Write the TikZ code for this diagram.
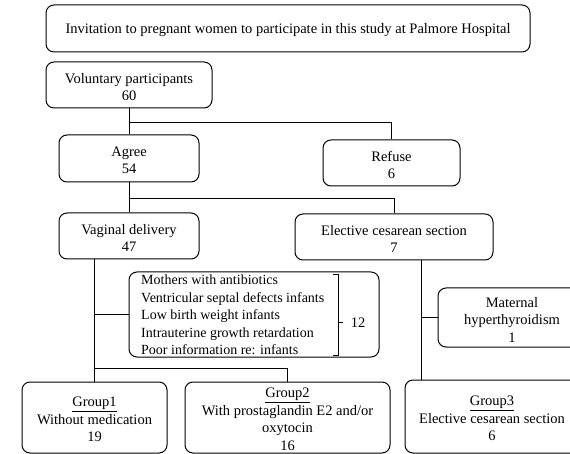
\documentclass[tikz,border=0pt]{standalone}
\usepackage{fontspec}
\setmainfont{Liberation Serif}
\usetikzlibrary{backgrounds}
\begin{document}
\begin{tikzpicture}[x=1pt,y=-1pt,
  box/.style={draw,fill=white,rounded corners=8pt,line width=1pt,inner sep=0pt},
  txt/.style={inner sep=0pt,align=center,font=\fontsize{14.5}{17.5}\selectfont},
  listtxt/.style={inner sep=0pt,align=left,font=\fontsize{14}{17.5}\selectfont},
  intxt/.style={label={[txt,yshift=-2pt]center:{#1}}},
  conn/.style={line width=1pt}]
\useasboundingbox (0,0) rectangle (570,454);
\clip (0,0) rectangle (570,454);
\node[box,minimum width=484pt,minimum height=47pt,
  intxt={Invitation to pregnant women to participate in this study at Palmore Hospital}] (title) at (288,28.5) {};
\node[box,minimum width=166pt,minimum height=46pt,
  intxt={Voluntary participants\\60}] (vol) at (129,85) {};
\node[box,minimum width=140pt,minimum height=47pt,
  intxt={Agree\\54}] (agree) at (129,158.5) {};
\node[box,minimum width=137pt,minimum height=46pt,
  intxt={Refuse\\6}] (refuse) at (391.5,163) {};
\node[box,minimum width=140pt,minimum height=46pt,
  intxt={Vaginal delivery\\47}] (vaginal) at (129,236) {};
\node[box,minimum width=198pt,minimum height=46pt,
  intxt={Elective cesarean section\\7}] (elective) at (394,237) {};
\node[box,minimum width=250pt,minimum height=85pt] (excl) at (254,314.5) {};
\node[listtxt,anchor=west] (excltxt) at (141,315)
  {Mothers with antibiotics\\Ventricular septal defects infants\\Low birth weight infants\\Intrauterine growth retardation\\Poor information re: infants};
\node[txt] (twelve) at (358,323) {12};
\node[box,minimum width=148pt,minimum height=59pt,
  intxt={Maternal\\hyperthyroidism\\1}] (maternal) at (512,317.5) {};
\node[box,minimum width=145pt,minimum height=71pt,
  intxt={\underline{Group1}\\Without medication\\19}] (g1) at (94.5,417.5) {};
\node[box,minimum width=205pt,minimum height=71pt,
  intxt={\underline{Group2}\\With prostaglandin E2 and/or\\oxytocin\\16}] (g2) at (287.5,417.5) {};
\node[box,minimum width=174pt,minimum height=73pt,
  intxt={\underline{Group3}\\Elective cesarean section\\6}] (g3) at (492,416.5) {};
% bracket
\draw[conn] (333,275) -- (338,275) -- (338,355) -- (333,355);
\draw[conn] (338,322) -- (343,322);
% connectors
\coordinate (j1) at (129,123);
\coordinate (j2) at (129,199);
\coordinate (e1) at (421,260);
\begin{pgfonlayer}{background}
\draw[conn] (vol.south) -- (agree.north);
\draw[conn] (j1) -| (refuse.north);
\draw[conn] (agree.south) -- (vaginal.north);
\draw[conn] (j2) -| (elective.north);
\draw[conn] (g1.north |- vaginal.south) -- (g1.north);
\draw[conn] (g1.north |- excl.west) -- (excl.west);
\draw[conn] (g1.north |- 0,368) -| (g2.north);
\draw[conn] (e1) -- (e1 |- g3.north);
\draw[conn] (e1 |- maternal.west) -- (maternal.west);
\end{pgfonlayer}
\end{tikzpicture}
\end{document}
